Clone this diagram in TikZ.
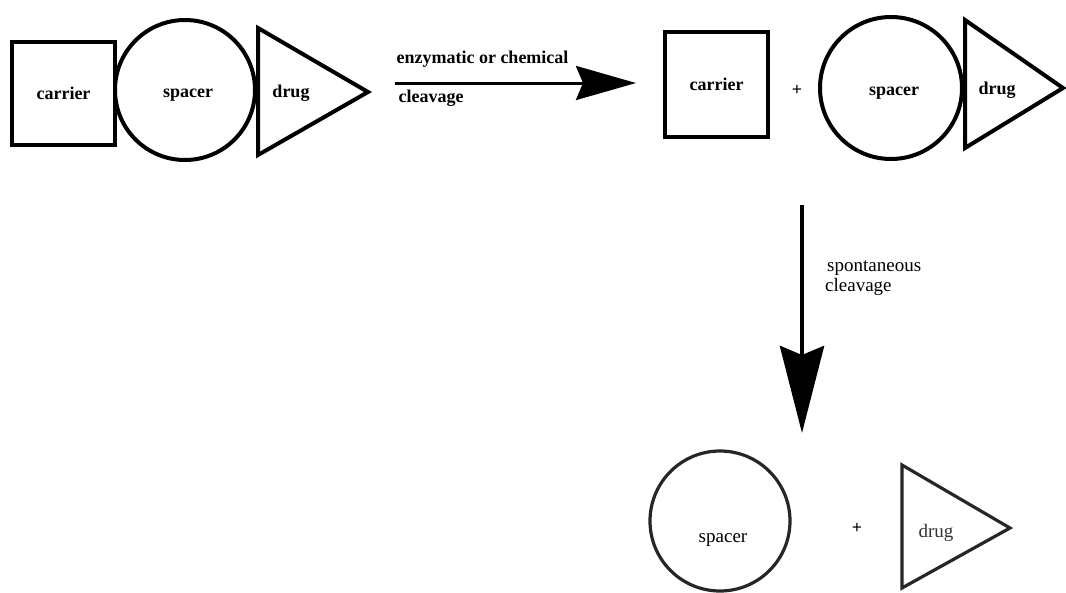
\documentclass[tikz,border=0pt]{standalone}
\usepackage{fontspec}
\setmainfont{Liberation Serif}
\usetikzlibrary{arrows.meta}
\tikzset{
	part/.style={line width=4pt,line join=miter},
	partlow/.style={line width=3.2pt,line join=miter,draw=black!85},
	lbl/.style={font=\fontsize{18}{18}\selectfont\bfseries},
	lbllow/.style={font=\fontsize{19}{19}\selectfont},
	plus/.style={font=\fontsize{18}{18}\selectfont\bfseries},
}
\begin{document}
\begin{tikzpicture}[x=1pt,y=-1pt]
		\useasboundingbox (0,0) rectangle (1066,592);
		% carrier - spacer - drug
		\draw[part] (12,42) rectangle node[lbl] (carrierA) {carrier} (115,145);
		\draw[part] (185,90) circle[radius=70pt];
		\node[lbl] (spacerA) at (188,95) {spacer};
		\draw[part] (258,28) -- (258,155) -- (368,92) -- cycle;
		\node[lbl] (drugA) at (291,93) {drug};
		% first cleavage
		\coordinate (cutAs) at (395,83);
		\coordinate (cutAe) at (636,83);
		\draw[line width=3pt,-{Stealth[length=60pt,width=34pt,inset=7pt]}] (cutAs) -- (cutAe);
		\node[lbl,anchor=base west] (cutAtop) at (393,63) {enzymatic or chemical};
		\node[lbl,anchor=base west] (cutAbot) at (395,102) {cleavage};
		% carrier + spacer - drug
		\draw[part] (665,32) rectangle node[lbl] (carrierB) {carrier} (768,137);
		\node[plus] (plusB) at (797,90) {+};
		\draw[part] (891,88) circle[radius=71pt];
		\node[lbl] (spacerB) at (894,93) {spacer};
		\draw[part] (965,20) -- (965,148) -- (1063,88) -- cycle;
		\node[lbl] (drugB) at (997,90) {drug};
		% second cleavage
		\coordinate (cutBs) at (802,205);
		\coordinate (cutBe) at (802,433);
		\draw[line width=4.5pt,-{Stealth[length=87pt,width=44pt,inset=9pt]}] (cutBs) -- (cutBe);
		\node[lbllow,anchor=base west,inner sep=1pt] (cutBtop) at (826,271) {spontaneous};
		\node[lbllow,anchor=base west,inner sep=1pt] (cutBbot) at (824,291) {cleavage};
		% spacer + drug
		\draw[partlow] (720,521) circle[radius=70pt];
		\node[lbllow,anchor=base] (spacerC) at (723,542) {spacer};
		\node[plus] (plusC) at (857,528) {+};
		\draw[partlow] (902,465) -- (902,588) -- (1010,528) -- cycle;
		\node[lbllow,anchor=base,text=black!80] (drugC) at (936,537) {drug};
	\end{tikzpicture}
\end{document}
